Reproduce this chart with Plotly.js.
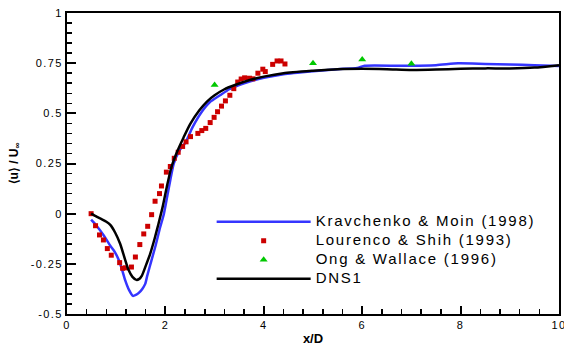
<!DOCTYPE html>
<html>
<head>
<meta charset="utf-8">
<script src="https://cdn.plot.ly/plotly-3.0.1.min.js"></script>
<style>
  html, body { margin: 0; padding: 0; background: #fff; }
  text.legendtext { font-size: 15px !important; letter-spacing: 1.75px; }
  .xtick text, .ytick text { letter-spacing: 1.4px; }
</style>
</head>
<body>
<div id="chart" style="width:564px;height:347px;"></div>
<script>
// ---- data ----
const kmX = [0.49, 0.6, 0.74, 0.88, 0.97, 1.05, 1.12, 1.18, 1.26, 1.34, 1.4, 1.46, 1.53, 1.59, 1.63, 1.72, 1.8, 1.88, 1.97, 2.04, 2.1, 2.17, 2.3, 2.41, 2.55, 2.74, 2.9, 3.11, 3.3, 3.6, 4.0, 4.4, 5.0, 5.5, 5.9, 6.05, 6.8, 7.5, 7.95, 8.5, 9.0, 9.5, 10.0];
const kmY = [-0.03, -0.06, -0.106, -0.16, -0.19, -0.23, -0.28, -0.33, -0.38, -0.41, -0.405, -0.395, -0.375, -0.35, -0.31, -0.23, -0.16, -0.08, 0.0, 0.09, 0.168, 0.25, 0.32, 0.355, 0.43, 0.508, 0.555, 0.59, 0.62, 0.65, 0.677, 0.695, 0.71, 0.72, 0.726, 0.737, 0.737, 0.74, 0.749, 0.746, 0.743, 0.74, 0.736];

const lsX = [0.49, 0.58, 0.66, 0.74, 0.82, 0.90, 1.07, 1.13, 1.19, 1.31, 1.39, 1.48, 1.56, 1.64, 1.72, 1.79, 1.88, 1.92, 2.02, 2.10, 2.18, 2.26, 2.35, 2.42, 2.51, 2.66, 2.74, 2.82, 2.91, 2.99, 3.06, 3.14, 3.22, 3.31, 3.39, 3.47, 3.54, 3.61, 3.71, 3.78, 3.88, 3.98, 4.03, 4.18, 4.27, 4.35, 4.43];
const lsY = [0.0, -0.06, -0.106, -0.131, -0.174, -0.207, -0.244, -0.272, -0.27, -0.266, -0.216, -0.154, -0.101, -0.063, -0.005, 0.062, 0.10, 0.138, 0.207, 0.235, 0.276, 0.306, 0.335, 0.358, 0.384, 0.40, 0.414, 0.425, 0.454, 0.48, 0.508, 0.536, 0.562, 0.59, 0.623, 0.656, 0.671, 0.677, 0.675, 0.672, 0.70, 0.72, 0.708, 0.744, 0.761, 0.761, 0.746];

const owX = [3, 5, 6, 7];
const owY = [0.641, 0.749, 0.768, 0.747];

const dnsX = [0.49, 0.6, 0.71, 0.8, 0.88, 0.98, 1.08, 1.17, 1.25, 1.33, 1.41, 1.47, 1.52, 1.6, 1.69, 1.78, 1.86, 1.95, 2.03, 2.12, 2.24, 2.37, 2.5, 2.69, 2.85, 3.0, 3.2, 3.4, 3.7, 4.0, 4.4, 5.0, 5.5, 6.0, 6.5, 7.0, 7.5, 8.0, 8.5, 9.0, 9.5, 10.0];
const dnsY = [0.0, -0.015, -0.028, -0.04, -0.056, -0.095, -0.15, -0.22, -0.28, -0.315, -0.33, -0.325, -0.31, -0.26, -0.2, -0.125, -0.05, 0.04, 0.135, 0.23, 0.31, 0.38, 0.445, 0.515, 0.56, 0.59, 0.62, 0.64, 0.665, 0.683, 0.70, 0.712, 0.72, 0.722, 0.72, 0.716, 0.718, 0.722, 0.724, 0.724, 0.728, 0.74];

const seriesNames = ['Kravchenko & Moin (1998)', 'Lourenco & Shih (1993)', 'Ong & Wallace (1996)', 'DNS1'];

const xTickVals = [0, 2, 4, 6, 8, 10];
const xTickText = ['0', '2', '4', '6', '8', '10'];
const yTickVals = [-0.5, -0.25, 0, 0.25, 0.5, 0.75, 1];
const yTickText = ['-0.5', '-0.25', '0', '0.25', '0.5', '0.75', '1'];

const FONT = 'Liberation Sans, Arial, sans-serif';

const traces = [
  { x: kmX, y: kmY, name: seriesNames[0], mode: 'lines', line: { color: '#3535ff', width: 2.5, shape: 'spline', smoothing: 0.6 } },
  { x: lsX, y: lsY, name: seriesNames[1], mode: 'markers', marker: { symbol: 'square', color: '#cc0000', size: 5 } },
  { x: owX, y: owY, name: seriesNames[2], mode: 'markers', marker: { symbol: 'triangle-up', color: '#00c800', size: 7 } },
  { x: dnsX, y: dnsY, name: seriesNames[3], mode: 'lines', line: { color: '#000000', width: 2.5, shape: 'spline', smoothing: 0.6 } }
];

const axisCommon = {
  showline: true, linewidth: 2, linecolor: '#000', mirror: true,
  showgrid: false, zeroline: false,
  ticks: 'inside', tickcolor: '#000', tickwidth: 2,
  ticklabeloverflow: 'allow',
  tickfont: { family: FONT, size: 11, color: '#000' }
};

const layout = {
  width: 564, height: 347,
  margin: { l: 67, r: 5, t: 13, b: 33 },
  paper_bgcolor: '#fff', plot_bgcolor: '#fff',
  font: { family: FONT, color: '#000' },
  showlegend: true,
  legend: {
    x: 0.294, y: 0.355, xanchor: 'left', yanchor: 'top',
    bgcolor: 'rgba(0,0,0,0)', borderwidth: 0,
    font: { family: FONT, size: 12, color: '#000' },
    itemwidth: 94, tracegroupgap: 0
  },
  xaxis: Object.assign({}, axisCommon, {
    range: [0, 10], tickmode: 'array', tickvals: xTickVals, ticktext: xTickText,
    ticklen: 8,
    minor: { tickmode: 'linear', tick0: 0, dtick: 0.4, ticks: 'inside', ticklen: 5, tickwidth: 1.5, tickcolor: '#000' },
    title: { text: '<b>x/D</b>', font: { family: FONT, size: 13, color: '#000' }, standoff: 4 }
  }),
  yaxis: Object.assign({}, axisCommon, {
    range: [-0.5, 1], tickmode: 'array', tickvals: yTickVals, ticktext: yTickText,
    ticklen: 9,
    minor: { tickmode: 'linear', tick0: 0, dtick: 0.05, ticks: 'inside', ticklen: 5, tickwidth: 1.5, tickcolor: '#000' },
    title: { text: '<b>⟨u⟩ / U<sub>∞</sub></b>', font: { family: FONT, size: 12, color: '#000' }, standoff: 10 }
  })
};

Plotly.newPlot('chart', traces, layout, { staticPlot: true, displayModeBar: false });
</script>
</body>
</html>
